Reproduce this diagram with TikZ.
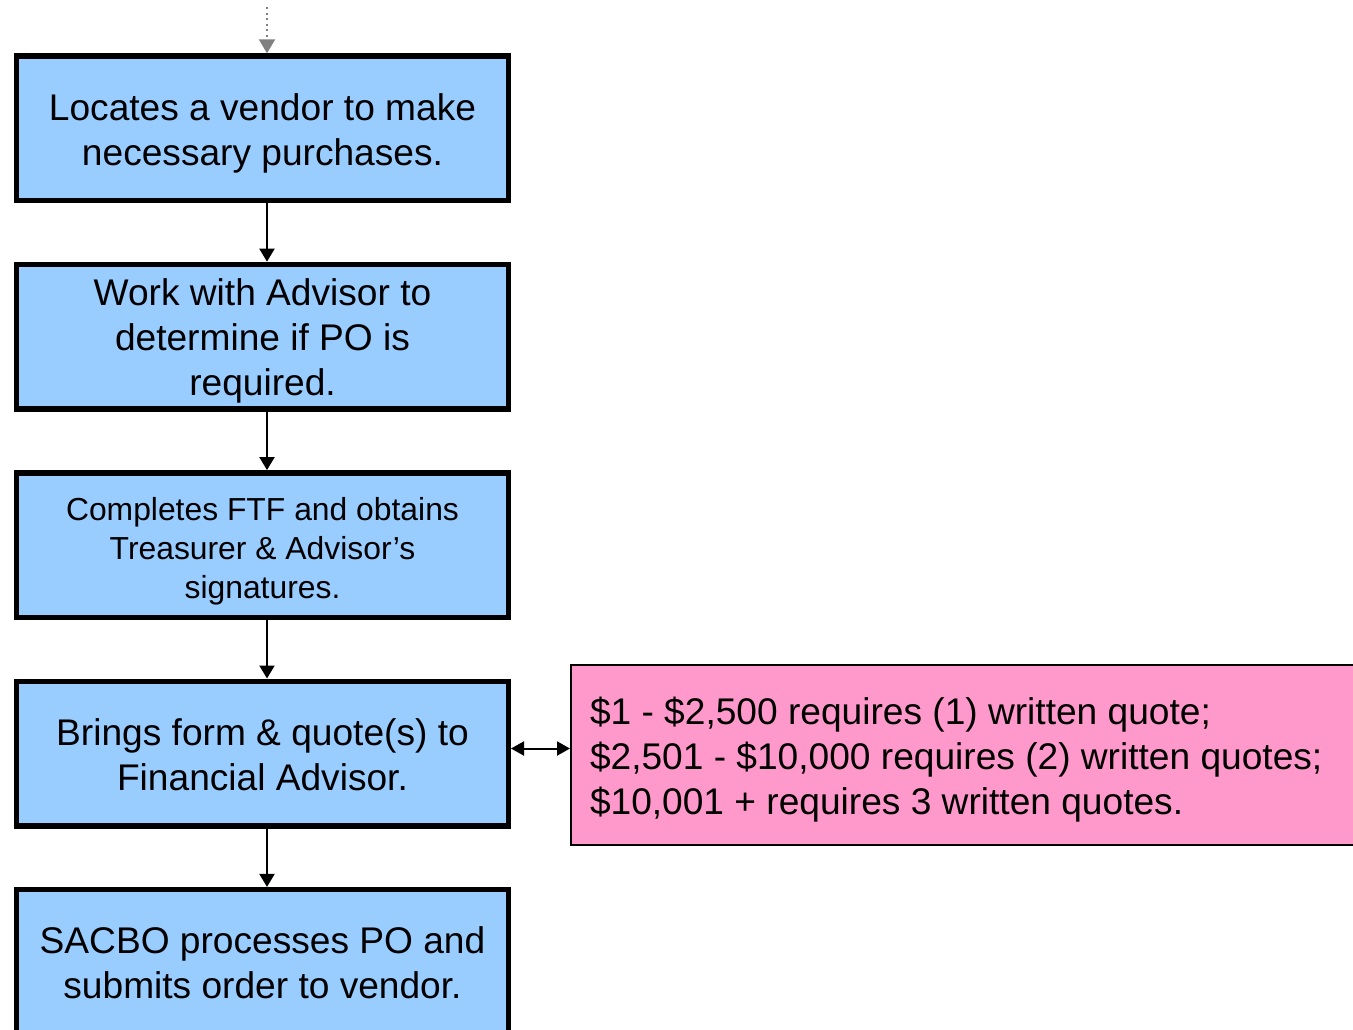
\documentclass[tikz,border=0pt]{standalone}
\usepackage{fontspec}
\setmainfont{Liberation Sans}
\usepackage{tikz}
\usetikzlibrary{arrows.meta,positioning,calc}
\definecolor{stepblue}{RGB}{153,204,255}
\definecolor{notepink}{RGB}{255,153,204}
\definecolor{dotgray}{RGB}{128,128,128}
\newcommand{\boxstrut}{\rule[-2.1pt]{0pt}{12.4pt}}
\tikzset{
  stepbox/.style={draw=black, fill=stepblue, line width=0.055cm,
                  minimum width=4.915cm, minimum height=1.445cm, inner sep=0pt,
                  text width=4.915cm, align=flush center, font=\fontsize{10.56}{12.8}\selectfont,
                  execute at begin node=\boxstrut, execute at end node=\boxstrut},
  notebox/.style={draw=black, fill=notepink, line width=0.02cm,
                  minimum height=1.8cm, text width=7.52cm, inner xsep=0.19cm,
                  align=flush left, font=\fontsize{10.56}{12.8}\selectfont,
                  execute at begin node=\boxstrut, execute at end node=\boxstrut},
  flowarr/.style={-{Triangle[length=0.13cm, width=0.15cm]}, black, line width=0.02cm},
  dblarr/.style={{Triangle[length=0.13cm, width=0.14cm]}-{Triangle[length=0.13cm, width=0.14cm]}, black, line width=0.02cm},
  dotarr/.style={-{Triangle[length=0.14cm, width=0.16cm]}, dotgray, line width=0.02cm,
                 dash pattern=on 0.02cm off 0.035cm},
}
\begin{document}
\begin{tikzpicture}[node distance=0.584cm]
  \useasboundingbox (0,0) rectangle (13.53,-10.30);
  \clip (0,0) rectangle (13.53,-10.30);
  % steps
  \node[stepbox] (loc) at (2.625,-1.283) {Locates a vendor to make\\necessary purchases.};
  \node[stepbox, below=of loc] (adv) {Work with Advisor to\\determine if PO is\\required.};
  \node[stepbox, below=of adv, font=\fontsize{9.06}{11}\selectfont] (ftf) {Completes FTF and obtains\\Treasurer \& Advisor’s\\signatures.};
  \node[stepbox, below=of ftf] (fin) {Brings form \& quote(s) to\\Financial Advisor.};
  \node[stepbox, below=of fin] (sac) {SACBO processes PO and\\submits order to vendor.};
  % quote rules
  \node[notebox, anchor=west] (quote) at (5.70,-7.55) {\$1 - \$2,500 requires (1) written quote;\\\$2,501 - \$10,000 requires (2) written quotes;\\\$10,001 + requires 3 written quotes.};
  % connectors
  \coordinate (top) at ([xshift=0.045cm, yshift=0.46cm]loc.north);
  \draw[dotarr] (top) -- ([xshift=0.045cm]loc.north);
  \draw[flowarr] ([xshift=0.045cm]loc.south) -- ([xshift=0.045cm]adv.north);
  \draw[flowarr] ([xshift=0.045cm]adv.south) -- ([xshift=0.045cm]ftf.north);
  \draw[flowarr] ([xshift=0.045cm]ftf.south) -- ([xshift=0.045cm]fin.north);
  \draw[flowarr] ([xshift=0.045cm]fin.south) -- ([xshift=0.045cm]sac.north);
  \draw[dblarr] ([yshift=0.05cm]fin.east) -- ([yshift=0.05cm]fin.east -| quote.west);
\end{tikzpicture}
\end{document}
